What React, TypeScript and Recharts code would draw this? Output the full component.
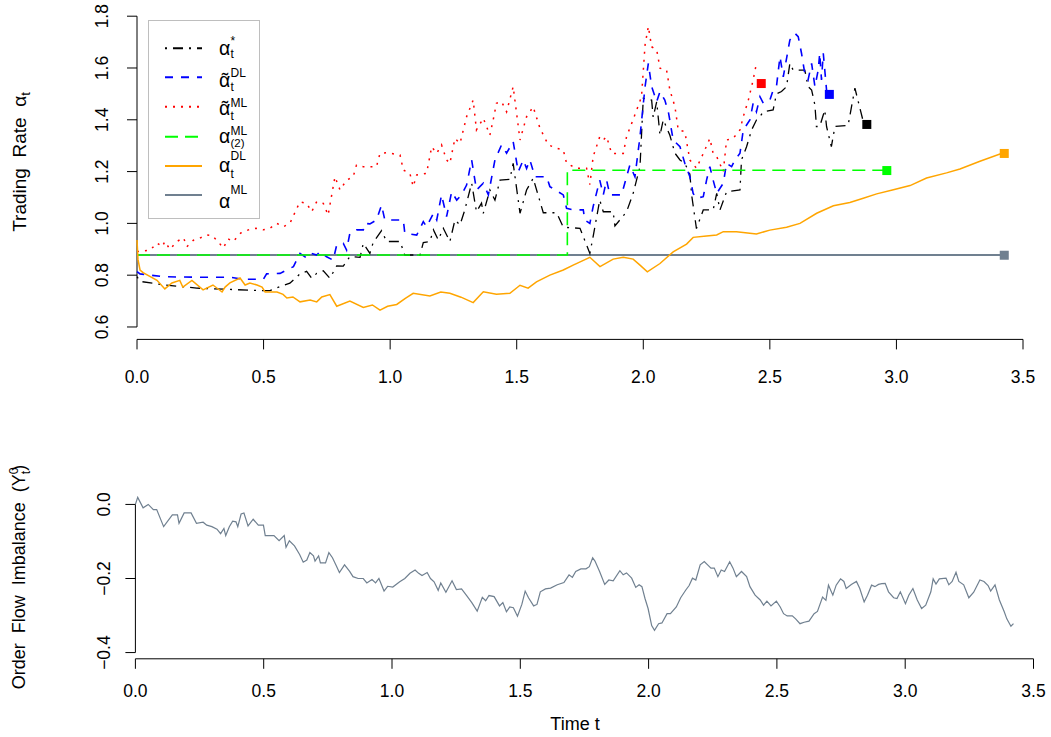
import React from 'react';
import { ComposedChart, Line, Scatter, XAxis, YAxis, ReferenceLine, Legend } from 'recharts';

type P = [number, number];

const FONT = "'Liberation Sans', Arial, Helvetica, sans-serif";

const xTicks = [0, 0.5, 1, 1.5, 2, 2.5, 3, 3.5];
const topYTicks = [0.6, 0.8, 1.0, 1.2, 1.4, 1.6, 1.8];
const bottomYTicks = [-0.4, -0.2, 0];

// alpha*_t (black, dot-dash)
const alphaStar: P[] = [
  [0, 0.794], [0.012, 0.776], [0.104, 0.763], [0.236, 0.75], [0.367, 0.745], [0.499, 0.74], [0.525, 0.74],
  [0.565, 0.756], [0.604, 0.769], [0.644, 0.805], [0.67, 0.815], [0.69, 0.788], [0.71, 0.807], [0.736, 0.817],
  [0.762, 0.788], [0.789, 0.836], [0.815, 0.835], [0.841, 0.872], [0.881, 0.869], [0.894, 0.923], [0.92, 0.884],
  [0.933, 0.926], [0.966, 0.972], [0.986, 0.93], [1.039, 0.93], [1.058, 0.878], [1.118, 0.878], [1.131, 0.926],
  [1.157, 0.93], [1.171, 0.975], [1.19, 0.936], [1.21, 0.981], [1.236, 0.93], [1.256, 1.013], [1.276, 0.994],
  [1.295, 1.052], [1.322, 1.155], [1.341, 1.045], [1.361, 1.078], [1.368, 1.039], [1.394, 1.129], [1.414, 1.09],
  [1.434, 1.167], [1.473, 1.17], [1.486, 1.232], [1.513, 1.039], [1.539, 1.129], [1.565, 1.174], [1.605, 1.041],
  [1.658, 1.041], [1.684, 0.985], [1.75, 0.981], [1.789, 0.884], [1.802, 0.95], [1.828, 1.09], [1.842, 1.045],
  [1.881, 1.045], [1.888, 0.99], [1.934, 1.045], [1.96, 1.116], [1.987, 1.219], [2.0, 1.483], [2.033, 1.476],
  [2.039, 1.41], [2.053, 1.47], [2.066, 1.34], [2.079, 1.4], [2.105, 1.34], [2.125, 1.271], [2.145, 1.245],
  [2.164, 1.232], [2.184, 1.19], [2.191, 1.11], [2.21, 0.98], [2.237, 1.052], [2.276, 1.052], [2.29, 1.116],
  [2.303, 1.052], [2.329, 1.122], [2.382, 1.129], [2.388, 1.245], [2.408, 1.296], [2.428, 1.361], [2.447, 1.399],
  [2.461, 1.412], [2.474, 1.431], [2.513, 1.438], [2.526, 1.5], [2.546, 1.509], [2.566, 1.528], [2.579, 1.618],
  [2.592, 1.592], [2.638, 1.592], [2.651, 1.528], [2.665, 1.515], [2.678, 1.457], [2.684, 1.374], [2.697, 1.374],
  [2.717, 1.438], [2.724, 1.374], [2.743, 1.296], [2.757, 1.374], [2.809, 1.378], [2.836, 1.522], [2.856, 1.444],
  [2.869, 1.393], [2.88, 1.38],
];

// tilde alpha^DL_t (blue, dashed)
const alphaTildeDL: P[] = [
  [0, 0.814], [0.012, 0.805], [0.104, 0.794], [0.236, 0.792], [0.367, 0.792], [0.42, 0.784], [0.499, 0.784],
  [0.512, 0.805], [0.565, 0.807], [0.591, 0.82], [0.618, 0.833], [0.644, 0.884], [0.67, 0.866], [0.69, 0.884],
  [0.71, 0.878], [0.723, 0.891], [0.749, 0.871], [0.775, 0.858], [0.789, 0.917], [0.815, 0.923], [0.828, 0.897],
  [0.841, 0.962], [0.867, 0.975], [0.894, 0.975], [0.9, 1.0], [0.92, 0.998], [0.946, 1.013], [0.966, 1.071],
  [0.979, 1.013], [1.052, 1.013], [1.058, 0.962], [1.105, 0.955], [1.131, 1.007], [1.144, 0.987], [1.171, 1.039],
  [1.184, 1.013], [1.203, 1.11], [1.223, 1.026], [1.243, 1.122], [1.263, 1.09], [1.282, 1.11], [1.302, 1.148],
  [1.322, 1.245], [1.341, 1.129], [1.368, 1.155], [1.388, 1.11], [1.414, 1.245], [1.44, 1.303], [1.46, 1.271],
  [1.486, 1.316], [1.506, 1.199], [1.526, 1.245], [1.539, 1.212], [1.552, 1.245], [1.572, 1.18], [1.618, 1.18],
  [1.631, 1.142], [1.684, 1.11], [1.697, 1.058], [1.723, 1.052], [1.763, 1.052], [1.769, 1.013], [1.789, 1.0],
  [1.802, 1.065], [1.828, 1.167], [1.842, 1.11], [1.855, 1.167], [1.868, 1.11], [1.914, 1.11], [1.934, 1.18],
  [1.947, 1.225], [1.967, 1.18], [1.987, 1.335], [2.007, 1.528], [2.02, 1.618], [2.033, 1.528], [2.053, 1.47],
  [2.066, 1.509], [2.085, 1.476], [2.099, 1.431], [2.118, 1.322], [2.145, 1.296], [2.164, 1.232], [2.184, 1.18],
  [2.197, 1.116], [2.21, 1.097], [2.237, 1.103], [2.25, 1.167], [2.263, 1.219], [2.276, 1.167], [2.29, 1.116],
  [2.316, 1.155], [2.329, 1.232], [2.349, 1.219], [2.362, 1.245], [2.382, 1.271], [2.395, 1.361], [2.421, 1.399],
  [2.434, 1.464], [2.447, 1.431], [2.461, 1.489], [2.474, 1.464], [2.5, 1.476], [2.513, 1.515], [2.526, 1.528],
  [2.54, 1.644], [2.553, 1.566], [2.579, 1.708], [2.599, 1.734], [2.612, 1.721], [2.625, 1.657], [2.638, 1.579],
  [2.651, 1.554], [2.665, 1.618], [2.678, 1.528], [2.691, 1.592], [2.697, 1.657], [2.704, 1.554], [2.711, 1.657],
  [2.724, 1.515], [2.73, 1.5],
];

// tilde alpha^ML_t (red, dotted)
const alphaTildeML: P[] = [
  [0, 0.891], [0.052, 0.897], [0.079, 0.924], [0.1, 0.91], [0.11, 0.93], [0.13, 0.9], [0.157, 0.93], [0.184, 0.944],
  [0.197, 0.91], [0.223, 0.935], [0.25, 0.944], [0.276, 0.955], [0.297, 0.953], [0.32, 0.93], [0.341, 0.905],
  [0.36, 0.94], [0.38, 0.93], [0.41, 0.963], [0.44, 0.975], [0.47, 0.981], [0.499, 0.975], [0.525, 0.981],
  [0.552, 1.0], [0.578, 0.987], [0.604, 1.0], [0.631, 1.057], [0.644, 1.083], [0.67, 1.077], [0.69, 1.045],
  [0.71, 1.084], [0.736, 1.077], [0.755, 1.032], [0.782, 1.18], [0.802, 1.129], [0.828, 1.167], [0.854, 1.18],
  [0.867, 1.225], [0.894, 1.219], [0.946, 1.219], [0.96, 1.271], [0.986, 1.273], [1.039, 1.264], [1.052, 1.206],
  [1.078, 1.193], [1.091, 1.142], [1.105, 1.187], [1.144, 1.193], [1.164, 1.296], [1.184, 1.27], [1.203, 1.303],
  [1.223, 1.245], [1.236, 1.232], [1.256, 1.328], [1.276, 1.309], [1.302, 1.412], [1.328, 1.476], [1.341, 1.361],
  [1.368, 1.406], [1.394, 1.341], [1.407, 1.399], [1.42, 1.464], [1.44, 1.47], [1.46, 1.431], [1.486, 1.528],
  [1.513, 1.322], [1.539, 1.412], [1.565, 1.45], [1.592, 1.367], [1.625, 1.303], [1.658, 1.29], [1.684, 1.283],
  [1.697, 1.232], [1.736, 1.213], [1.776, 1.213], [1.789, 1.15], [1.802, 1.258], [1.815, 1.296], [1.828, 1.335],
  [1.842, 1.322], [1.855, 1.335], [1.875, 1.27], [1.921, 1.27], [1.934, 1.335], [1.954, 1.386], [1.974, 1.438],
  [1.993, 1.489], [2.007, 1.689], [2.02, 1.76], [2.033, 1.682], [2.053, 1.67], [2.066, 1.599], [2.092, 1.592],
  [2.105, 1.515], [2.125, 1.451], [2.138, 1.361], [2.164, 1.354], [2.184, 1.245], [2.21, 1.213], [2.237, 1.27],
  [2.263, 1.328], [2.276, 1.27], [2.29, 1.258], [2.316, 1.2], [2.329, 1.322], [2.355, 1.328], [2.382, 1.361],
  [2.395, 1.412], [2.415, 1.476], [2.434, 1.554], [2.447, 1.618],
];

// alpha^ML_(2) (green, long dash)
const alphaML2: P[] = [[0, 0.878], [1.7, 0.878], [1.7, 1.205], [2.962, 1.205]];

// alpha^DL_t (orange, solid)
const alphaDL: P[] = [
  [0, 0.936], [0.004, 0.86], [0.012, 0.82], [0.024, 0.81], [0.079, 0.78], [0.11, 0.747], [0.138, 0.77],
  [0.169, 0.78], [0.181, 0.754], [0.217, 0.78], [0.261, 0.743], [0.3, 0.762], [0.336, 0.735], [0.348, 0.754],
  [0.367, 0.77], [0.407, 0.789], [0.427, 0.762], [0.446, 0.77], [0.474, 0.762], [0.494, 0.754], [0.506, 0.735],
  [0.553, 0.735], [0.577, 0.726], [0.592, 0.712], [0.616, 0.716], [0.644, 0.697], [0.684, 0.704], [0.71, 0.697],
  [0.73, 0.716], [0.762, 0.725], [0.789, 0.68], [0.841, 0.7], [0.894, 0.675], [0.93, 0.685], [0.96, 0.665],
  [0.99, 0.68], [1.026, 0.687], [1.06, 0.71], [1.091, 0.73], [1.157, 0.72], [1.2, 0.735], [1.236, 0.73],
  [1.28, 0.715], [1.328, 0.694], [1.368, 0.736], [1.42, 0.726], [1.473, 0.73], [1.513, 0.761], [1.545, 0.75],
  [1.578, 0.774], [1.631, 0.8], [1.684, 0.82], [1.723, 0.839], [1.789, 0.869], [1.829, 0.833], [1.881, 0.862],
  [1.921, 0.869], [1.96, 0.862], [1.987, 0.839], [2.016, 0.813], [2.066, 0.845], [2.118, 0.89], [2.171, 0.92],
  [2.197, 0.946], [2.25, 0.951], [2.29, 0.955], [2.316, 0.968], [2.368, 0.968], [2.447, 0.959], [2.5, 0.974],
  [2.566, 0.985], [2.619, 1.0], [2.685, 1.039], [2.751, 1.068], [2.816, 1.081], [2.869, 1.097], [2.922, 1.114],
  [2.988, 1.13], [3.054, 1.146], [3.119, 1.175], [3.198, 1.195], [3.251, 1.21], [3.33, 1.24], [3.409, 1.268],
  [3.43, 1.27],
];

// alpha^ML (slate grey, constant)
const alphaML: P[] = [[0, 0.878], [3.43, 0.878]];

// terminal markers
const endRed: P[] = [[2.466, 1.54]];
const endBlue: P[] = [[2.735, 1.498]];
const endBlack: P[] = [[2.883, 1.382]];
const endGreen: P[] = [[2.962, 1.204]];
const endOrange: P[] = [[3.426, 1.27]];
const endGrey: P[] = [[3.426, 0.877]];

// order flow imbalance Y^0_t
const orderFlow: P[] = [
  [0, 0], [0.009, 0.019], [0.03, -0.009], [0.05, 0], [0.07, -0.014], [0.083, -0.014], [0.11, -0.06], [0.144, -0.028],
  [0.164, -0.028], [0.17, -0.051], [0.19, -0.023], [0.217, -0.023], [0.238, -0.051], [0.264, -0.048], [0.278, -0.056],
  [0.298, -0.06], [0.318, -0.067], [0.332, -0.079], [0.345, -0.065], [0.352, -0.084], [0.366, -0.06], [0.379, -0.045],
  [0.392, -0.047], [0.399, -0.06], [0.412, -0.026], [0.423, -0.023], [0.439, -0.058], [0.459, -0.04], [0.479, -0.056],
  [0.499, -0.056], [0.506, -0.084], [0.54, -0.084], [0.56, -0.098], [0.58, -0.084], [0.587, -0.116], [0.6, -0.098],
  [0.62, -0.112], [0.64, -0.135], [0.654, -0.156], [0.668, -0.15], [0.68, -0.13], [0.694, -0.139], [0.7, -0.153],
  [0.714, -0.139], [0.721, -0.158], [0.741, -0.158], [0.754, -0.13], [0.768, -0.144], [0.781, -0.163], [0.795, -0.184],
  [0.815, -0.163], [0.835, -0.181], [0.848, -0.195], [0.868, -0.2], [0.888, -0.2], [0.902, -0.212], [0.922, -0.203],
  [0.936, -0.212], [0.949, -0.2], [0.969, -0.234], [0.983, -0.221], [1.003, -0.223], [1.03, -0.209], [1.05, -0.2],
  [1.07, -0.186], [1.09, -0.177], [1.104, -0.186], [1.117, -0.192], [1.137, -0.184], [1.15, -0.2], [1.164, -0.209],
  [1.18, -0.232], [1.19, -0.212], [1.21, -0.237], [1.234, -0.206], [1.251, -0.23], [1.271, -0.228], [1.291, -0.246],
  [1.311, -0.265], [1.332, -0.288], [1.352, -0.251], [1.365, -0.26], [1.378, -0.246], [1.398, -0.249], [1.419, -0.274],
  [1.432, -0.265], [1.446, -0.29], [1.459, -0.277], [1.473, -0.279], [1.489, -0.302], [1.506, -0.27], [1.519, -0.234],
  [1.532, -0.252], [1.552, -0.274], [1.565, -0.27], [1.578, -0.236], [1.598, -0.228], [1.618, -0.226], [1.644, -0.217],
  [1.67, -0.211], [1.69, -0.19], [1.703, -0.197], [1.716, -0.181], [1.736, -0.174], [1.756, -0.174], [1.769, -0.168],
  [1.782, -0.144], [1.791, -0.153], [1.809, -0.181], [1.829, -0.216], [1.845, -0.204], [1.862, -0.206], [1.888, -0.179],
  [1.901, -0.19], [1.914, -0.185], [1.934, -0.199], [1.95, -0.224], [1.963, -0.217], [1.974, -0.222], [1.986, -0.254],
  [1.998, -0.281], [2.012, -0.327], [2.023, -0.34], [2.039, -0.322], [2.052, -0.32], [2.072, -0.295], [2.085, -0.295],
  [2.108, -0.277], [2.125, -0.252], [2.145, -0.231], [2.158, -0.219], [2.171, -0.199], [2.184, -0.204], [2.201, -0.163],
  [2.217, -0.154], [2.23, -0.163], [2.243, -0.172], [2.256, -0.172], [2.27, -0.195], [2.283, -0.177], [2.296, -0.181],
  [2.316, -0.155], [2.329, -0.172], [2.342, -0.195], [2.362, -0.181], [2.382, -0.195], [2.395, -0.222], [2.415, -0.245],
  [2.435, -0.258], [2.448, -0.272], [2.461, -0.261], [2.477, -0.274], [2.498, -0.261], [2.513, -0.277], [2.526, -0.295],
  [2.54, -0.301], [2.56, -0.301], [2.573, -0.309], [2.59, -0.322], [2.606, -0.318], [2.625, -0.315], [2.645, -0.295],
  [2.658, -0.289], [2.678, -0.25], [2.691, -0.259], [2.701, -0.218], [2.718, -0.245], [2.731, -0.218], [2.748, -0.201],
  [2.761, -0.208], [2.77, -0.227], [2.79, -0.216], [2.81, -0.208], [2.823, -0.227], [2.84, -0.263], [2.853, -0.245],
  [2.869, -0.218], [2.882, -0.222], [2.896, -0.216], [2.909, -0.214], [2.922, -0.213], [2.935, -0.236], [2.955, -0.252],
  [2.968, -0.254], [2.981, -0.236], [3.001, -0.268], [3.014, -0.245], [3.03, -0.227], [3.047, -0.258], [3.064, -0.281],
  [3.08, -0.272], [3.1, -0.236], [3.109, -0.201], [3.12, -0.215], [3.133, -0.201], [3.159, -0.199], [3.17, -0.217],
  [3.183, -0.208], [3.198, -0.183], [3.209, -0.208], [3.228, -0.217], [3.248, -0.252], [3.267, -0.237], [3.291, -0.204],
  [3.307, -0.208], [3.323, -0.219], [3.333, -0.234], [3.35, -0.217], [3.367, -0.258], [3.386, -0.29], [3.396, -0.309],
  [3.412, -0.329], [3.422, -0.322],
];

const pts = (a: P[]) => a.map(([t, v]) => ({ t, v }));

const fmt = (v: number) => v.toFixed(1).replace('-', '\u2212');

const C = {
  black: '#000000',
  blue: '#0000FF',
  red: '#FF0000',
  green: '#00FF00',
  orange: '#FFA500',
  grey: '#708090',
};

const XTick = (off: number) => (props: any) => {
  const { x, y, payload } = props;
  return (
    <text x={x} y={y + off} textAnchor="middle" fontSize={17.5} fontFamily={FONT} fill="#000">
      {fmt(payload.value)}
    </text>
  );
};

const YTick = (bx: number) => (props: any) => {
  const { y, payload } = props;
  return (
    <text x={bx} y={y} transform={`rotate(-90 ${bx} ${y})`} textAnchor="middle" fontSize={17.5} fontFamily={FONT} fill="#000">
      {fmt(payload.value)}
    </text>
  );
};

const Square = (props: any) => {
  const { cx, cy, fill } = props;
  if (cx == null || cy == null) return null;
  return <rect x={cx - 4.5} y={cy - 4.5} width={9} height={9} fill={fill} />;
};

const TopYTitle = () => (
  <text x={26} y={162} transform="rotate(-90 26 162)" textAnchor="middle" fontSize={19} fontFamily={FONT} fill="#000">
    {'Trading\u00a0 Rate\u00a0 \u03b1'}
    <tspan dy={4} fontSize={13}>t</tspan>
  </text>
);

const BottomYTitle = () => (
  <text x={25} y={177} transform="rotate(-90 25 177)" textAnchor="middle" fontSize={18} fontFamily={FONT} fill="#000">
    {'Order\u00a0 Flow\u00a0 Imbalance\u00a0 (Y'}
    <tspan dy={-7} fontSize={12.5}>0</tspan>
    <tspan dx={-7} dy={12} fontSize={12.5}>t</tspan>
    <tspan dy={-5}>)</tspan>
  </text>
);

const TimeTitle = () => (
  <text x={575} y={330} textAnchor="middle" fontSize={18} fontFamily={FONT} fill="#000">
    Time t
  </text>
);

const legendLines = [
  { y: 28.3, color: C.black, dash: '2 6 10 6' },
  { y: 57.3, color: C.blue, dash: '8 8' },
  { y: 86.7, color: C.red, dash: '2 6' },
  { y: 116.7, color: C.green, dash: '13 7' },
  { y: 146, color: C.orange, dash: undefined },
  { y: 175, color: C.grey, dash: undefined },
];

const LegendBox = () => {
  const ax = 71;
  const sx = 82.5;
  const big = 19.5;
  const small = 12;
  const T = (x: number, y: number, s: string, fs: number) => (
    <text x={x} y={y} fontSize={fs} fontFamily={FONT} fill="#000">
      {s}
    </text>
  );
  // alpha with a tilde placed over it, as one text element
  const TA = (y: number) => (
    <text x={ax} y={y} fontSize={big} fontFamily={FONT} fill="#000">
      {'\u03b1'}
      <tspan dx={-8.6}>{'\u02dc'}</tspan>
    </text>
  );
  return (
    <svg width={112} height={199} style={{ display: 'block', overflow: 'visible' }}>
      <rect x={0.5} y={0.5} width={111} height={198} fill="#fff" stroke="#bebebe" strokeWidth={1} />
      {legendLines.map((l, i) => (
        <line key={i} x1={17} x2={54} y1={l.y} y2={l.y} stroke={l.color} strokeWidth={2} strokeDasharray={l.dash} />
      ))}
      {/* row 1: alpha*_t */}
      {T(ax, 35, '\u03b1', big)}
      {T(sx, 25, '*', small)}
      {T(sx, 38, 't', small)}
      {/* row 2: tilde alpha^DL_t */}
      {TA(66.7)}
      {T(sx, 57, 'DL', small)}
      {T(sx, 71, 't', small)}
      {/* row 3: tilde alpha^ML_t */}
      {TA(95)}
      {T(sx, 87, 'ML', small)}
      {T(sx, 99.5, 't', small)}
      {/* row 4: alpha^ML_(2) */}
      {T(ax, 123.3, '\u03b1', big)}
      {T(sx, 115, 'ML', small)}
      {T(sx, 126.5, '(2)', 11.5)}
      {/* row 5: alpha^DL_t */}
      {T(ax, 151.7, '\u03b1', big)}
      {T(sx, 140, 'DL', small)}
      {T(sx, 158, 't', small)}
      {/* row 6: alpha^ML */}
      {T(ax, 188.3, '\u03b1', big)}
      {T(sx, 174, 'ML', small)}
    </svg>
  );
};

const lineCommon = {
  type: 'linear' as const,
  dataKey: 'v',
  dot: false,
  activeDot: false,
  isAnimationActive: false,
  legendType: 'none' as const,
};

export default function App() {
  return (
    <div style={{ position: 'absolute', left: 0, top: 0, width: 1051, height: 737, background: '#fff' }}>
      <div style={{ position: 'absolute', left: 0, top: 0 }}>
        <ComposedChart width={1051} height={400} margin={{ top: 3.77, right: 28, bottom: 10, left: 0 }}>
          <XAxis
            type="number"
            dataKey="t"
            domain={[0, 3.5]}
            ticks={xTicks}
            height={50.6}
            tickSize={10}
            tickMargin={0}
            tick={XTick(34)}
            axisLine={{ stroke: '#000' }}
            tickLine={{ stroke: '#000' }}
          />
          <YAxis
            type="number"
            dataKey="v"
            domain={[0.552, 1.848]}
            ticks={topYTicks}
            width={137}
            tickSize={10}
            tickMargin={0}
            axisLine={false}
            tickLine={{ stroke: '#000' }}
            tick={YTick(108.5)}
            label={{ content: () => <TopYTitle /> }}
          />
          <ReferenceLine segment={[{ x: 0, y: 0.6 }, { x: 0, y: 1.8 }]} stroke="#000" ifOverflow="visible" />
          <Line {...lineCommon} data={pts(alphaML)} stroke={C.grey} strokeWidth={2} />
          <Line {...lineCommon} data={pts(alphaStar)} stroke={C.black} strokeWidth={1.3} strokeDasharray="2 6 10 6" />
          <Line {...lineCommon} data={pts(alphaTildeDL)} stroke={C.blue} strokeWidth={1.6} strokeDasharray="8 8" />
          <Line {...lineCommon} data={pts(alphaTildeML)} stroke={C.red} strokeWidth={1.5} strokeDasharray="2 6" />
          <Line {...lineCommon} data={pts(alphaML2)} stroke={C.green} strokeWidth={1.6} strokeDasharray="13 7" />
          <Line {...lineCommon} data={pts(alphaDL)} stroke={C.orange} strokeWidth={1.5} />
          <Scatter data={pts(endRed)} dataKey="v" fill={C.red} shape={Square} isAnimationActive={false} legendType="none" />
          <Scatter data={pts(endBlue)} dataKey="v" fill={C.blue} shape={Square} isAnimationActive={false} legendType="none" />
          <Scatter data={pts(endBlack)} dataKey="v" fill={C.black} shape={Square} isAnimationActive={false} legendType="none" />
          <Scatter data={pts(endGreen)} dataKey="v" fill={C.green} shape={Square} isAnimationActive={false} legendType="none" />
          <Scatter data={pts(endOrange)} dataKey="v" fill={C.orange} shape={Square} isAnimationActive={false} legendType="none" />
          <Scatter data={pts(endGrey)} dataKey="v" fill={C.grey} shape={Square} isAnimationActive={false} legendType="none" />
          <Legend
            layout="vertical"
            align="center"
            verticalAlign="middle"
            content={() => <LegendBox />}
            wrapperStyle={{ left: 148, top: 20, width: 112, height: 199 }}
          />
        </ComposedChart>
      </div>
      <div style={{ position: 'absolute', left: 0, top: 400 }}>
        <ComposedChart width={1051} height={337} margin={{ top: 90.8, right: 17.5, bottom: 10, left: 0 }}>
          <XAxis
            type="number"
            dataKey="t"
            domain={[0, 3.5]}
            ticks={xTicks}
            height={68.2}
            tickSize={10}
            tickMargin={0}
            tick={XTick(28.6)}
            axisLine={{ stroke: '#000' }}
            tickLine={{ stroke: '#000' }}
            label={{ content: () => <TimeTitle /> }}
          />
          <YAxis
            type="number"
            dataKey="v"
            domain={[-0.4168, 0.0368]}
            ticks={bottomYTicks}
            width={135.4}
            tickSize={10}
            tickMargin={0}
            axisLine={false}
            tickLine={{ stroke: '#000' }}
            tick={YTick(110)}
            label={{ content: () => <BottomYTitle /> }}
          />
          <ReferenceLine segment={[{ x: 0, y: -0.4 }, { x: 0, y: 0 }]} stroke="#000" ifOverflow="visible" />
          <Line {...lineCommon} data={pts(orderFlow)} stroke={C.grey} strokeWidth={1.2} />
        </ComposedChart>
      </div>
    </div>
  );
}
